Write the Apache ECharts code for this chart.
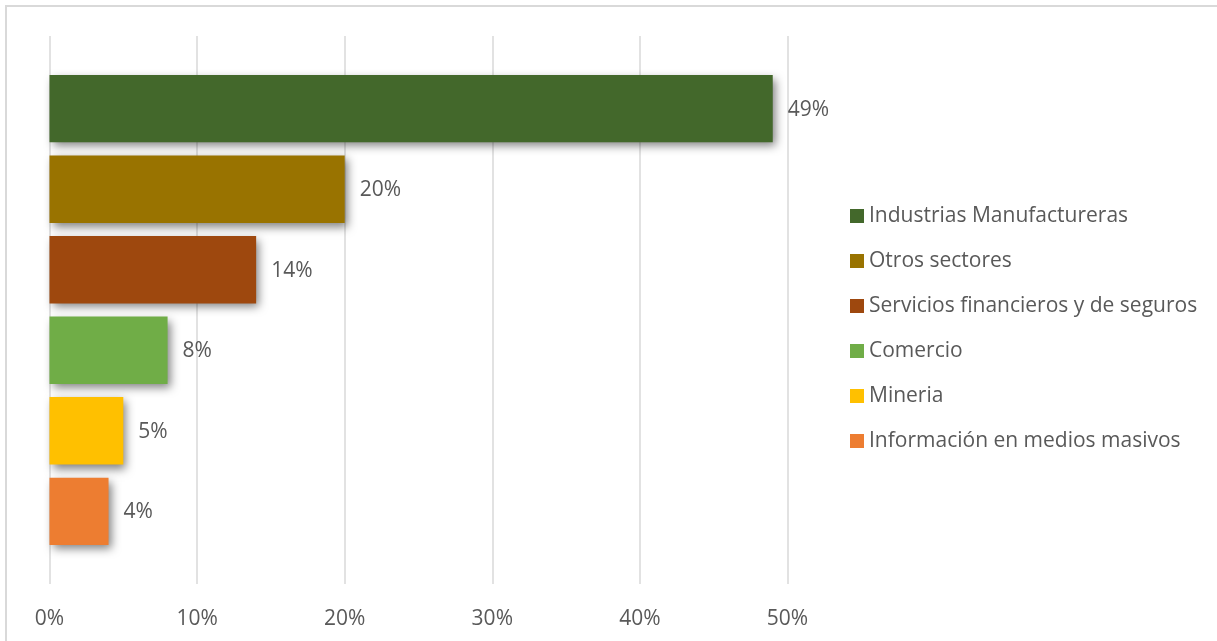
<!DOCTYPE html>
<html>
<head>
<meta charset="utf-8">
<script src="https://cdn.jsdelivr.net/npm/echarts@6/dist/echarts.min.js"></script>
<style>
  html, body { margin: 0; padding: 0; background: #ffffff; }
  #chart { width: 1217px; height: 641px; }
</style>
</head>
<body>
<div id="chart"></div>
<script>
// Sector shares (percent)
const sectors = [
  'Industrias Manufactureras',
  'Otros sectores',
  'Servicios financieros y de seguros',
  'Comercio',
  'Mineria',
  'Información en medios masivos'
];
const shares = [49, 20, 14, 8, 5, 4];
const colors = ['#43682B', '#997300', '#9E480E', '#70AD47', '#FFC000', '#ED7D31'];
const xTicks = { min: 0, max: 50, step: 10 };

const FONT = '"Open Sans", "Liberation Sans", sans-serif';
const TEXT = '#595959';
const FS = 21;

const series = sectors.map((name, i) => ({
  name: name,
  type: 'bar',
  data: [shares[i]],
  barWidth: '12.3%',
  barGap: '19.5%',
  itemStyle: {
    color: colors[i],
    shadowColor: 'rgba(0,0,0,0.5)',
    shadowBlur: 9,
    shadowOffsetX: 3,
    shadowOffsetY: 4
  },
  label: {
    show: true,
    position: 'right',
    distance: 15,
    offset: [0, 1],
    formatter: '{c}%',
    color: TEXT,
    fontFamily: FONT,
    fontSize: FS
  }
}));

const chart = echarts.init(document.getElementById('chart'), null, { renderer: 'canvas' });
chart.setOption({
  animation: false,
  backgroundColor: '#ffffff',
  graphic: [{
    type: 'rect',
    shape: { x: 6, y: 6, width: 1400, height: 800 },
    style: { fill: 'none', stroke: '#D9D9D9', lineWidth: 2 },
    silent: true,
    z: -10
  }],
  grid: { left: 49.5, right: 429.5, top: 36, bottom: 57, containLabel: false },
  legend: {
    orient: 'vertical',
    left: 845,
    top: 199,
    icon: 'rect',
    itemWidth: 14,
    itemHeight: 14,
    itemGap: 21,
    data: sectors,
    textStyle: { color: TEXT, fontFamily: FONT, fontSize: FS, lineHeight: 24 }
  },
  xAxis: {
    type: 'value',
    min: xTicks.min,
    max: xTicks.max,
    interval: xTicks.step,
    axisLine: { show: false },
    axisTick: { show: false },
    axisLabel: {
      formatter: '{value}%',
      color: TEXT,
      fontFamily: FONT,
      fontSize: FS,
      margin: 25
    },
    splitLine: { lineStyle: { color: '#D9D9D9', width: 1.5 } }
  },
  yAxis: {
    type: 'category',
    data: [''],
    inverse: true,
    axisLine: { show: false },
    axisTick: { show: false },
    axisLabel: { show: false }
  },
  series: series
});
</script>
</body>
</html>
